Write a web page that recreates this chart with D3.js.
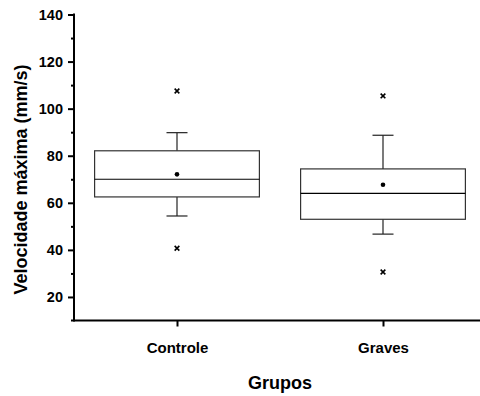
<!DOCTYPE html>
<html>
<head>
<meta charset="utf-8">
<script src="https://cdn.jsdelivr.net/npm/d3@7"></script>
<style>
  body { margin: 0; background: #fff; }
  svg { display: block; }
</style>
</head>
<body>
<div id="chart"></div>
<script>
var width = 480, height = 396;
var plotLeft = 74, plotRight = 486, plotTop = 14.5, plotBottom = 320.5;
var fontFamily = "Liberation Sans, Arial, Helvetica, sans-serif";

// data
var groups = ["Controle", "Graves"];
var whiskerLow = [54.4, 46.7];
var q1 = [62.5, 53.0];
var median = [70.0, 64.0];
var q3 = [82.1, 74.4];
var whiskerHigh = [89.8, 88.7];
var means = [72.1, 67.7];
var outMin = [40.7, 30.6];
var outMax = [107.5, 105.4];
var majorTicks = [20, 40, 60, 80, 100, 120, 140];
var minorTicks = [30, 50, 70, 90, 110, 130];

var svg = d3.select("#chart").append("svg")
  .attr("width", width)
  .attr("height", height);

var y = d3.scaleLinear().domain([10, 140]).range([plotBottom, plotTop]);
var x = d3.scalePoint().domain(groups).range([plotLeft, plotRight]).padding(0.5);
var boxW = x.step() * 0.8;
var capW = 21;

// y axis
var yAxis = svg.append("g")
  .attr("transform", "translate(" + plotLeft + ",0)")
  .call(d3.axisLeft(y).tickValues(majorTicks).tickSize(6).tickSizeOuter(0).tickPadding(5));
yAxis.select(".domain").remove();
yAxis.selectAll(".tick line").attr("stroke", "#000").attr("stroke-width", 2);
yAxis.selectAll(".tick text")
  .attr("font-family", fontFamily)
  .attr("font-weight", "bold")
  .attr("font-size", "14.5px")
  .attr("fill", "#000");

var yMinor = svg.append("g")
  .attr("transform", "translate(" + plotLeft + ",0)")
  .call(d3.axisLeft(y).tickValues(minorTicks).tickSize(3).tickFormat(""));
yMinor.select(".domain").remove();
yMinor.selectAll(".tick line").attr("stroke", "#000").attr("stroke-width", 2);

svg.append("line")
  .attr("x1", plotLeft).attr("x2", plotLeft)
  .attr("y1", y(140) - 1).attr("y2", plotBottom + 1)
  .attr("stroke", "#000").attr("stroke-width", 2);

// x axis
var xAxis = svg.append("g")
  .attr("transform", "translate(0," + plotBottom + ")")
  .call(d3.axisBottom(x).tickSize(6).tickSizeOuter(0).tickPadding(16));
xAxis.select(".domain").remove();
xAxis.selectAll(".tick line").attr("stroke", "#000").attr("stroke-width", 2);
xAxis.selectAll(".tick text")
  .attr("font-family", fontFamily)
  .attr("font-weight", "bold")
  .attr("font-size", "15px")
  .attr("fill", "#000");

svg.append("line")
  .attr("x1", plotLeft - 3).attr("x2", width)
  .attr("y1", plotBottom).attr("y2", plotBottom)
  .attr("stroke", "#000").attr("stroke-width", 2);

// axis titles
svg.append("text")
  .attr("x", 280)
  .attr("y", 389)
  .attr("text-anchor", "middle")
  .attr("font-family", fontFamily)
  .attr("font-weight", "bold")
  .attr("font-size", "18px")
  .text("Grupos");

svg.append("text")
  .attr("transform", "translate(27,179.5) rotate(-90)")
  .attr("text-anchor", "middle")
  .attr("font-family", fontFamily)
  .attr("font-weight", "bold")
  .attr("font-size", "18px")
  .text("Velocidade máxima (mm/s)");

// boxes
var plot = svg.append("g");
groups.forEach(function(g, i) {
  var cx = x(g);
  var b = plot.append("g");
  // whiskers
  b.append("line")
    .attr("x1", cx).attr("x2", cx)
    .attr("y1", y(q3[i])).attr("y2", y(whiskerHigh[i]))
    .attr("stroke", "#222").attr("stroke-width", 1.2);
  b.append("line")
    .attr("x1", cx).attr("x2", cx)
    .attr("y1", y(q1[i])).attr("y2", y(whiskerLow[i]))
    .attr("stroke", "#222").attr("stroke-width", 1.2);
  [whiskerHigh[i], whiskerLow[i]].forEach(function(v) {
    b.append("line")
      .attr("x1", cx - capW / 2).attr("x2", cx + capW / 2)
      .attr("y1", y(v)).attr("y2", y(v))
      .attr("stroke", "#222").attr("stroke-width", 1.2);
  });
  // box
  b.append("rect")
    .attr("x", cx - boxW / 2)
    .attr("y", y(q3[i]))
    .attr("width", boxW)
    .attr("height", y(q1[i]) - y(q3[i]))
    .attr("fill", "none")
    .attr("stroke", "#333")
    .attr("stroke-width", 1.2);
  b.append("line")
    .attr("x1", cx - boxW / 2).attr("x2", cx + boxW / 2)
    .attr("y1", y(median[i])).attr("y2", y(median[i]))
    .attr("stroke", "#000").attr("stroke-width", 1.2);
  // mean
  b.append("circle")
    .attr("cx", cx).attr("cy", y(means[i]))
    .attr("r", 2.3)
    .attr("fill", "#000");
  // min / max marks
  [outMin[i], outMax[i]].forEach(function(v) {
    b.append("path")
      .attr("d", d3.symbol(d3.symbolX, 16)())
      .attr("transform", "translate(" + cx + "," + y(v) + ")")
      .attr("stroke", "#000")
      .attr("stroke-width", 1.6)
      .attr("fill", "none");
  });
});
</script>
</body>
</html>
